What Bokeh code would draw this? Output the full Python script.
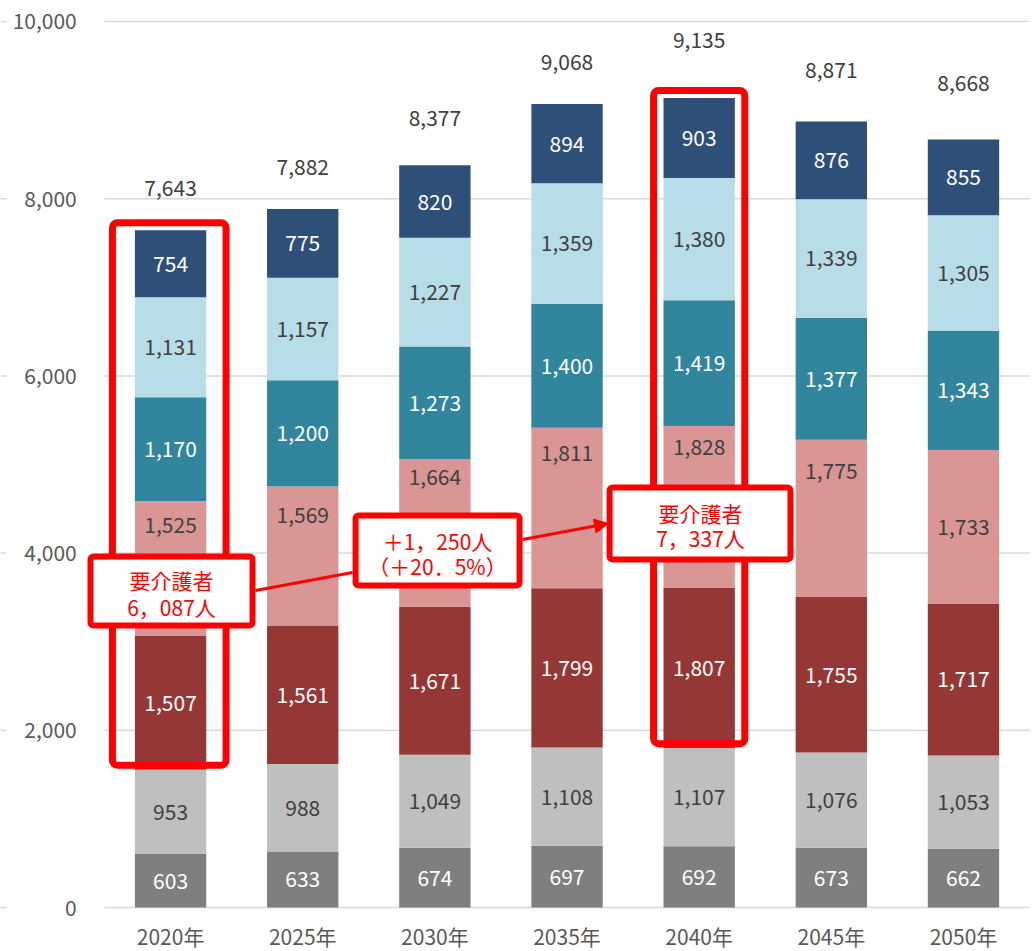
from bokeh.plotting import figure
from bokeh.models import BoxAnnotation, Label, Arrow, NormalHead, Range1d
from bokeh.core.properties import value
from bokeh.embed import file_html
from bokeh.resources import INLINE

# ---------------- data ----------------
years = ["2020年", "2025年", "2030年", "2035年", "2040年", "2045年", "2050年"]
s1 = [603, 633, 674, 697, 692, 673, 662]
s2 = [953, 988, 1049, 1108, 1107, 1076, 1053]
s3 = [1507, 1561, 1671, 1799, 1807, 1755, 1717]
s4 = [1525, 1569, 1664, 1811, 1828, 1775, 1733]
s5 = [1170, 1200, 1273, 1400, 1419, 1377, 1343]
s6 = [1131, 1157, 1227, 1359, 1380, 1339, 1305]
s7 = [754, 775, 820, 894, 903, 876, 855]
totals = [7643, 7882, 8377, 9068, 9135, 8871, 8668]
y_ticks = [0, 2000, 4000, 6000, 8000, 10000]

care_2020_text = ["要介護者", "6，087人"]
diff_text = ["＋1，250人", "（＋20．5%）"]
care_2040_text = ["要介護者", "7，337人"]

# ---------------- styles ----------------
FONT = "Noto Sans CJK JP"
series = [s1, s2, s3, s4, s5, s6, s7]
colors = ["#7F7F7F", "#BFBFBF", "#953735", "#D99694", "#31859C", "#B7DEE8", "#2E4F78"]
label_colors = ["#FFFFFF", "#404040", "#FFFFFF", "#404040", "#FFFFFF", "#404040", "#FFFFFF"]
pink_label_shift = [-44, -41, -56, -55, -60, -47, 0]      # px nudges
total_label_shift = [-42, -42, -47, -42, -58, -52, -57]   # px nudges
RED = "#FF0000"
GRID = "#D9D9D9"

xs = [i + 0.5 for i in range(len(years))]
n = len(years)

p = figure(x_range=Range1d(-0.787, 7.045), y_range=Range1d(-496.6, 10237),
           width=1035, height=951, output_backend="svg", toolbar_location=None,
           min_border_left=0, min_border_right=0, min_border_top=0, min_border_bottom=0)
p.outline_line_color = None
p.background_fill_color = "white"
p.border_fill_color = "white"
p.xgrid.grid_line_color = None
p.ygrid.grid_line_color = None
p.xaxis.visible = False
p.yaxis.visible = False

# horizontal gridlines across the category area (+ small stubs at far left)
m = len(y_ticks)
p.segment(x0=[0] * m, x1=[n] * m, y0=y_ticks, y1=y_ticks, line_color=GRID, line_width=1.5)
p.segment(x0=[-0.79] * m, x1=[-0.742] * m, y0=y_ticks, y1=y_ticks, line_color=GRID, line_width=1.5)

# y tick labels
p.text(x=[-0.21] * m, y=y_ticks, text=[f"{t:,}" for t in y_ticks],
       text_font=value(FONT), text_font_size="21px", text_color="#595959",
       text_align="right", text_baseline="middle")

# stacked bars
bottoms = [0] * n
centers_all = []
for vals, col in zip(series, colors):
    tops = [b + v for b, v in zip(bottoms, vals)]
    p.vbar(x=xs, bottom=bottoms, top=tops, width=0.54, fill_color=col, line_color=None)
    centers_all.append([(b + t) / 2 for b, t in zip(bottoms, tops)])
    bottoms = tops
stack_tops = bottoms

# highlight boxes around 2020 and 2040
hl_idx = [0, 4]
base = [a + b for a, b in zip(s1, s2)]
p.vbar(x=[xs[i] - 0.01 * (i == 0) for i in hl_idx],
       bottom=[base[i] + 50 for i in hl_idx],
       top=[stack_tops[i] + 85 for i in hl_idx],
       width=[0.86, 0.69], fill_color=None, line_color=RED, line_width=7,
       border_radius=5)

# segment labels
for k, (vals, cents, lc) in enumerate(zip(series, centers_all, label_colors)):
    offs = pink_label_shift if k == 3 else [0] * n
    p.text(x=xs, y=cents, text=[f"{v:,}" for v in vals], y_offset=offs,
           text_font=value(FONT), text_font_size="21px", text_color=lc,
           text_align="center", text_baseline="middle")

# totals
p.text(x=xs, y=stack_tops, text=[f"{v:,}" for v in totals], y_offset=total_label_shift,
       text_font=value(FONT), text_font_size="21px", text_color="#404040",
       text_align="center", text_baseline="middle")

# category labels under the bars
p.text(x=xs, y=[0] * n, text=years, y_offset=[28] * n,
       text_font=value(FONT), text_font_size="21px", text_color="#595959",
       text_align="center", text_baseline="middle")

# connectors
p.add_layout(Arrow(end=None, x_start=1.143, y_start=3578, x_end=1.877, y_end=3781,
                   line_color=RED, line_width=3))
p.add_layout(Arrow(end=NormalHead(size=14, fill_color=RED, line_color=RED),
                   x_start=3.163, y_start=4153, x_end=3.814, y_end=4334,
                   line_color=RED, line_width=3))

# callout boxes
def callout(left, right, top, bottom, cx, lines, ys):
    p.add_layout(BoxAnnotation(left=left, right=right, top=top, bottom=bottom,
                               fill_color="white", fill_alpha=1.0,
                               line_color=RED, line_alpha=1.0, line_width=6,
                               border_radius=3))
    for t, y in zip(lines, ys):
        p.add_layout(Label(x=cx, y=y, text=t, text_align="center", text_baseline="middle",
                           text_font=FONT, text_font_size="21px", text_color=RED))

callout(-0.106, 1.120, 3962, 3183, 0.507, care_2020_text, [3691, 3397])
callout(1.900, 3.141, 4424, 3634, 2.52, diff_text, [4142, 3860])
callout(3.822, 5.191, 4740, 3928, 4.51, care_2040_text, [4458, 4165])

open("out.html", "w").write(file_html(p, INLINE))
